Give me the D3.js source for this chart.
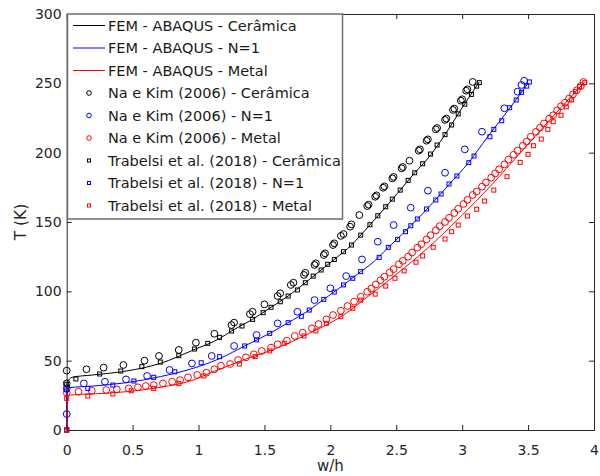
<!DOCTYPE html>
<html>
<head>
<meta charset="utf-8">
<script src="https://cdnjs.cloudflare.com/ajax/libs/d3/7.8.5/d3.min.js"></script>
<style>
  body { margin: 0; background: #fff; }
  text { font-family: "DejaVu Sans", sans-serif; }
</style>
</head>
<body>
<div id="chart"></div>
<script>
// axis ticks
let xTicks = [0, 0.5, 1, 1.5, 2, 2.5, 3, 3.5, 4];
let yTicks = [0, 50, 100, 150, 200, 250, 300];

// FEM - ABAQUS curves [w/h, T]
let femCeramica = [[0,0],[0.003,34],[0.04,38],[0.2,39.7],[0.45,42.5],[0.71,48],[0.96,57.7],[1.16,66],
  [1.25,71.4],[1.41,79.8],[1.55,88.5],[1.68,96.6],[1.81,106.2],[1.93,115.4],[2.03,123],[2.16,133.4],
  [2.22,139.4],[2.31,149],[2.40,158.6],[2.51,170.7],[2.64,185.5],[2.73,194.7],[2.87,213],[2.98,229.5],[3.13,251]];
let femN1 = [[0,0],[0.003,29],[0.02,30.5],[0.2,31.7],[0.45,34.1],[0.71,38.5],[0.96,44.5],[1.16,51.5],
  [1.35,60.6],[1.54,69.7],[1.68,77.4],[1.84,86.5],[1.95,94.2],[2.10,104.6],[2.23,114.2],[2.30,119],
  [2.44,131.7],[2.61,147.3],[2.73,159],[2.90,177],[3.05,193],[3.19,211],[3.36,232],[3.50,250]];
let femMetal = [[0,0],[0.003,22.8],[0.025,25.2],[0.2,26],[0.45,27.6],[0.71,30.8],[0.96,36],[1.1,41.5],
  [1.34,50.5],[1.59,58.9],[1.84,69.7],[2.10,82.9],[2.30,97.4],[2.55,116],[2.80,136.5],[3.0,155],
  [3.21,175.4],[3.46,201.9],[3.71,228.4],[3.93,251]];

// Na e Kim (2006)
let naKimCeramica = [[0,42.8],[0,33.6],[0.15,43.8],[0.28,45],[0.43,46.9],[0.59,50],[0.70,53.4],[0.85,57.7],
  [0.98,63],[1.12,69.4],[1.25,75.7],[1.27,77.4],[1.39,83.6],[1.41,85.3],[1.50,90.6],[1.60,96.6],[1.62,98.6],
  [1.70,104.6],[1.72,106.2],[1.80,111.8],[1.81,113.4],[1.88,119],[1.89,120.2],[1.95,126.2],[1.96,127.4],
  [2.02,133.4],[2.03,134.6],[2.08,140],[2.10,141.3],[2.15,146.6],[2.16,148.3],[2.22,155],[2.28,161.5],
  [2.29,162.5],[2.34,168.2],[2.35,169.2],[2.40,174.7],[2.41,175.7],[2.47,181.5],[2.48,182.5],[2.54,188.7],
  [2.55,189.7],[2.60,194.2],[2.67,201.4],[2.68,202.4],[2.73,208.6],[2.74,209.6],[2.80,216.8],[2.81,217.8],
  [2.87,223.6],[2.88,224.6],[2.93,230.8],[2.94,231.8],[2.99,237.5],[3.00,238.5],[3.03,244.7],[3.04,245.7],[3.08,251]];
let naKimN1 = [[0,11.5],[0,30],[0.13,33.6],[0.29,34.8],[0.45,36.5],[0.61,39],[0.78,43.3],[0.95,48],[1.10,53.4],
  [1.27,60.6],[1.44,68.5],[1.60,76.9],[1.75,85.3],[1.88,93.7],[2.0,102.2],[2.12,111],[2.24,123],[2.36,135.8],
  [2.48,147.8],[2.61,160.3],[2.74,172.6],[2.87,185.5],[3.02,202.4],[3.15,215.1],[3.32,232],[3.42,244],[3.45,248.8],[3.47,251.9]];
let naKimMetal = [[0,27],[0.09,27.6],[0.19,28.3],[0.30,28.8],[0.38,29.3],[0.47,30],[0.54,30.8],[0.60,31.7],
  [0.66,32.4],[0.73,33.6],[0.80,34.8],[0.86,36],[0.92,38],[0.99,39.7],[1.06,41.3],[1.12,43.8],[1.17,46.4],
  [1.24,47.6],[1.30,50.5],[1.36,52.4],[1.42,54.6],[1.48,57],[1.55,59.4],[1.60,61.8],[1.67,64.4],[1.73,67.8],
  [1.79,70.2],[1.86,73.3],[1.91,76.4],[1.97,79.8],[2.02,82.9],[2.08,86],[2.13,89.4],[2.18,92.5],[2.23,96.1],
  [2.28,99.7],[2.31,102],[2.345,105],[2.38,108],[2.41,110.5],[2.45,113.5],[2.48,116],[2.52,119.5],[2.55,122],
  [2.59,125],[2.62,128],[2.66,131.5],[2.69,134],[2.73,137.5],[2.76,140.5],[2.80,144],[2.83,147],[2.87,150],
  [2.90,153],[2.94,156.5],[2.97,159.5],[3.01,163],[3.04,166],[3.08,169.5],[3.11,172],[3.15,175.5],[3.18,178.5],
  [3.22,182],[3.25,185],[3.28,188],[3.32,191.5],[3.35,195],[3.39,198.5],[3.42,201.5],[3.46,205],[3.49,208],
  [3.52,211.5],[3.56,215],[3.59,218],[3.62,221],[3.66,224.5],[3.69,227],[3.72,230.5],[3.75,233.5],[3.78,236],
  [3.81,239],[3.84,242],[3.87,245],[3.90,248],[3.92,251]];

// Trabelsi et al. (2018)
let trabelsiCeramica = [[0,0],[0,33],[0.07,36.8],[0.25,40.4],[0.41,42.5],[0.57,45.7],[0.71,49],[0.85,53.6],
  [0.97,58.4],[1.07,62.5],[1.16,66.8],[1.25,71.4],[1.33,75],[1.41,79.8],[1.49,84.6],[1.55,88.5],[1.62,92.5],
  [1.68,96.6],[1.75,101],[1.81,106.2],[1.87,111],[1.93,115.4],[1.98,119.5],[2.03,123],[2.10,128.6],[2.16,133.4],
  [2.23,140.5],[2.30,148],[2.36,154.5],[2.42,161],[2.47,166.5],[2.53,173],[2.59,180],[2.64,185.5],[2.70,192],
  [2.76,199],[2.81,205.5],[2.87,213],[2.92,220],[2.97,228],[3.02,235],[3.07,242],[3.11,248],[3.13,250.5]];
let trabelsiN1 = [[0,0],[0,29],[0.16,30],[0.35,32.4],[0.51,35.3],[0.66,38],[0.82,42],[1.02,48.5],[1.16,52.9],
  [1.35,60.6],[1.44,65],[1.54,69.7],[1.68,77.4],[1.78,82],[1.84,86.5],[1.95,94.2],[2.03,99.5],[2.10,104.6],
  [2.17,109.4],[2.23,114.2],[2.37,124.5],[2.44,131.7],[2.51,137.5],[2.57,143],[2.61,147.3],[2.66,152.2],
  [2.73,159.4],[2.80,165.9],[2.84,170.2],[2.90,177.4],[2.96,183.2],[3.05,192.8],[3.09,197.6],[3.21,211.5],
  [3.24,216.8],[3.30,223],[3.36,232.4],[3.41,238],[3.45,243.5],[3.49,248],[3.51,251]];
let trabelsiMetal = [[0,0],[0,22.8],[0.16,24.5],[0.35,26],[0.49,28.3],[0.66,30],[0.85,33.6],[1.04,39],
  [1.31,47.6],[1.43,52.9],[1.54,57],[1.65,62.5],[1.80,67.8],[1.89,71.4],[1.97,76.9],[2.08,81.7],[2.17,87.8],
  [2.23,93.7],[2.34,98],[2.42,103.8],[2.49,109.4],[2.56,114.7],[2.65,121],[2.70,125.5],[2.78,131.8],[2.87,137.7],
  [2.92,143],[2.97,147.8],[3.04,154.3],[3.11,159.2],[3.17,165.1],[3.24,173],[3.34,182.7],[3.44,193],[3.50,198.8],
  [3.54,205],[3.60,209.8],[3.65,216.8],[3.69,222.3],[3.75,227],[3.79,233],[3.83,238],[3.86,244],[3.89,247.6],[3.93,250.5]];

let legendLabels = [
  "FEM - ABAQUS - Cerâmica", "FEM - ABAQUS - N=1", "FEM - ABAQUS - Metal",
  "Na e Kim (2006) - Cerâmica", "Na e Kim (2006) - N=1", "Na e Kim (2006) - Metal",
  "Trabelsi et al. (2018) - Cerâmica", "Trabelsi et al. (2018) - N=1", "Trabelsi et al. (2018) - Metal"
];

let width = 600, height = 476;
let plotLeft = 66.7, plotRight = 594, plotTop = 14, plotBottom = 430;
let axisColor = "#262626";

let svg = d3.select("#chart").append("svg")
  .attr("width", width)
  .attr("height", height);

let x = d3.scaleLinear().domain([0, 4]).range([plotLeft, plotRight]);
let y = d3.scaleLinear().domain([0, 300]).range([plotBottom, plotTop]);
let fmt = d3.format("~g");

// axes (ticks inside, box on)
function styleAxis(g) {
  g.select(".domain").attr("stroke", axisColor);
  g.selectAll(".tick line").attr("stroke", axisColor);
  g.selectAll(".tick text").attr("fill", axisColor).style("font-size", "14px")
    .style("font-family", "DejaVu Sans");
}

svg.append("g").attr("transform", `translate(0,${plotBottom})`)
  .call(d3.axisBottom(x).tickValues(xTicks).tickFormat(fmt).tickSize(-5).tickPadding(15).tickSizeOuter(0))
  .call(styleAxis);
svg.append("g").attr("transform", `translate(0,${plotTop})`)
  .call(d3.axisTop(x).tickValues(xTicks).tickFormat("").tickSize(-5).tickSizeOuter(0))
  .call(styleAxis);
svg.append("g").attr("transform", `translate(${plotLeft},0)`)
  .call(d3.axisLeft(y).tickValues(yTicks).tickFormat(fmt).tickSize(-5).tickPadding(5).tickSizeOuter(0))
  .call(styleAxis);
svg.append("g").attr("transform", `translate(${plotRight},0)`)
  .call(d3.axisRight(y).tickValues(yTicks).tickFormat("").tickSize(-5).tickSizeOuter(0))
  .call(styleAxis);

// axis labels
svg.append("text")
  .attr("x", (plotLeft + plotRight) / 2)
  .attr("y", 471)
  .attr("text-anchor", "middle")
  .attr("fill", axisColor)
  .style("font-size", "15px")
  .text("w/h");
svg.append("text")
  .attr("transform", `translate(26,${(plotTop + plotBottom) / 2}) rotate(-90)`)
  .attr("text-anchor", "middle")
  .attr("fill", axisColor)
  .style("font-size", "15.5px")
  .text("T (K)");

let plot = svg.append("g");

let line = d3.line()
  .x(d => x(d[0]))
  .y(d => y(d[1]))
  .curve(d3.curveMonotoneX);

let lineSeries = [[femCeramica, "#000000"], [femN1, "#0000ff"], [femMetal, "#ff0000"]];
lineSeries.forEach(function (s) {
  plot.append("path")
    .attr("d", line(s[0]))
    .attr("fill", "none")
    .attr("stroke", s[1])
    .attr("stroke-width", 1);
});

let circleSeries = [[naKimCeramica, "#000000"], [naKimN1, "#0000ff"], [naKimMetal, "#ff0000"]];
circleSeries.forEach(function (s) {
  plot.append("g").selectAll("circle")
    .data(s[0])
    .enter().append("circle")
    .attr("cx", d => x(d[0]))
    .attr("cy", d => y(d[1]))
    .attr("r", 3.4)
    .attr("fill", "none")
    .attr("stroke", s[1])
    .attr("stroke-width", 1);
});

let squareSeries = [[trabelsiCeramica, "#000000"], [trabelsiN1, "#0000ff"], [trabelsiMetal, "#ff0000"]];
squareSeries.forEach(function (s) {
  plot.append("g").selectAll("rect")
    .data(s[0])
    .enter().append("rect")
    .attr("x", d => x(d[0]) - 2)
    .attr("y", d => y(d[1]) - 2)
    .attr("width", 4)
    .attr("height", 4)
    .attr("fill", "none")
    .attr("stroke", s[1])
    .attr("stroke-width", 1);
});

// legend
let legend = svg.append("g");
legend.append("rect")
  .attr("x", 67.5)
  .attr("y", 14)
  .attr("width", 275)
  .attr("height", 205)
  .attr("fill", "#fff")
  .attr("stroke", "#6e6e6e")
  .attr("stroke-width", 1.5);

let colors = ["#000000", "#0000ff", "#ff0000"];
legendLabels.forEach(function (label, i) {
  let cy = 25.5 + i * 22.5;
  let c = colors[i % 3];
  if (i < 3) {
    legend.append("line")
      .attr("x1", 73).attr("x2", 105)
      .attr("y1", cy).attr("y2", cy)
      .attr("stroke", c).attr("stroke-width", 1);
  } else if (i < 6) {
    legend.append("circle")
      .attr("cx", 89).attr("cy", cy).attr("r", 2.3)
      .attr("fill", "none").attr("stroke", c).attr("stroke-width", 1);
  } else {
    legend.append("rect")
      .attr("x", 87.5).attr("y", cy - 1.5).attr("width", 3).attr("height", 3)
      .attr("fill", "none").attr("stroke", c).attr("stroke-width", 1);
  }
  legend.append("text")
    .attr("x", 108)
    .attr("y", cy + 5)
    .attr("fill", "#1a1a1a")
    .style("font-size", "14.5px")
    .text(label);
});
</script>
</body>
</html>
